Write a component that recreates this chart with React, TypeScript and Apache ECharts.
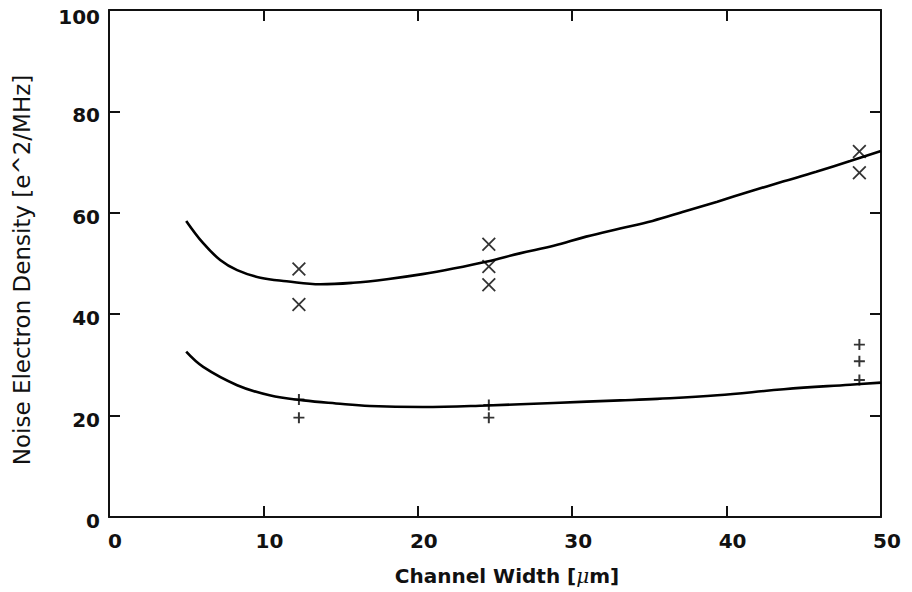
import React, { useEffect, useRef } from "react";
import * as echarts from "echarts";

const xTicks = [0, 10, 20, 30, 40, 50];
const yTicks = [0, 20, 40, 60, 80, 100];

const upperCurveX = [5.0, 6.1, 7.2, 8.3, 9.8, 11.5, 13.7, 15.8, 18.0, 20.3, 22.3, 24.5, 26.6, 28.8, 30.9, 33.1, 35.2, 37.2, 39.4, 41.5, 43.7, 45.8, 48.0, 50.0];
const upperCurveY = [58.4, 54.0, 50.7, 48.7, 47.2, 46.5, 45.9, 46.2, 46.9, 47.9, 49.0, 50.4, 52.0, 53.5, 55.3, 56.9, 58.4, 60.2, 62.2, 64.2, 66.2, 68.1, 70.2, 72.2];

const lowerCurveX = [5.0, 6.1, 8.3, 10.4, 12.6, 14.7, 16.9, 20.3, 24.5, 28.8, 33.1, 35.5, 39.4, 43.7, 48.0, 50.0];
const lowerCurveY = [32.6, 29.6, 26.0, 24.0, 23.0, 22.4, 21.9, 21.7, 22.0, 22.5, 23.0, 23.3, 24.0, 25.2, 26.1, 26.5];

const crossX = [12.3, 12.3, 24.6, 24.6, 24.6, 48.6, 48.6];
const crossY = [48.9, 41.9, 53.8, 49.4, 45.8, 72.1, 67.9];

const plusX = [12.3, 12.3, 24.6, 24.6, 48.6, 48.6, 48.6];
const plusY = [23.2, 19.6, 22.1, 19.6, 34.0, 30.7, 27.0];

const pairs = (xs: number[], ys: number[]) => xs.map((x, i) => [x, ys[i]]);

const CROSS_PATH = "path://M4.5,0H5.5V4.5H10V5.5H5.5V10H4.5V5.5H0V4.5H4.5Z";
const PLUS_PATH = "path://M4.1,0H5.9V4.1H10V5.9H5.9V10H4.1V5.9H0V4.1H4.1Z";

export default function App() {
  const ref = useRef<HTMLDivElement>(null);
  useEffect(() => {
    document.body.style.margin = "0";
    const chart = echarts.init(ref.current!, null, { renderer: "svg" });
    const tickLabel = {
      fontFamily: "DejaVu Sans",
      fontWeight: "bold" as const,
      fontSize: 20,
      color: "#111",
    };
    const lineStyle = { color: "#111", width: 2 };
    chart.setOption({
      animation: false,
      backgroundColor: "#fff",
      grid: { left: 109, right: 31, top: 10, bottom: 75 },
      xAxis: [
        {
          type: "value",
          min: 0,
          max: 50,
          interval: 10,
          position: "bottom",
          axisLine: { show: true, lineStyle },
          axisTick: { show: true, inside: true, length: 11, lineStyle },
          axisLabel: {
            ...tickLabel,
            margin: 14,
            padding: [0, 0, 0, 12],
            formatter: (v: number) => (xTicks.includes(v) ? String(v) : ""),
          },
          splitLine: { show: false },
        },
        {
          type: "value",
          min: 0,
          max: 50,
          interval: 10,
          position: "top",
          axisLine: { show: true, onZero: false, lineStyle },
          axisTick: { show: true, inside: true, length: 11, lineStyle },
          axisLabel: { show: false },
          splitLine: { show: false },
        },
      ],
      yAxis: [
        {
          type: "value",
          min: 0,
          max: 100,
          interval: 20,
          position: "left",
          axisLine: { show: true, onZero: false, lineStyle },
          axisTick: { show: true, inside: true, length: 11, lineStyle },
          axisLabel: {
            ...tickLabel,
            margin: 9,
            padding: [8, 0, 0, 0],
            formatter: (v: number) =>
              v === 100 ? "{top|100}" : yTicks.includes(v) ? String(v) : "",
            rich: {
              top: { ...tickLabel, padding: [6, 0, 0, 0] },
            },
          },
          splitLine: { show: false },
        },
        {
          type: "value",
          min: 0,
          max: 100,
          interval: 20,
          position: "right",
          axisLine: { show: true, onZero: false, lineStyle },
          axisTick: { show: true, inside: true, length: 11, lineStyle },
          axisLabel: { show: false },
          splitLine: { show: false },
        },
      ],
      series: [
        {
          name: "upper fit",
          type: "line",
          data: pairs(upperCurveX, upperCurveY),
          smooth: 0.4,
          showSymbol: false,
          lineStyle: { color: "#000", width: 2.6 },
        },
        {
          name: "lower fit",
          type: "line",
          data: pairs(lowerCurveX, lowerCurveY),
          smooth: 0.4,
          showSymbol: false,
          lineStyle: { color: "#000", width: 2.6 },
        },
        {
          name: "cross data",
          type: "scatter",
          data: pairs(crossX, crossY),
          symbol: CROSS_PATH,
          symbolSize: 18,
          symbolRotate: 45,
          itemStyle: { color: "#000" },
        },
        {
          name: "plus data",
          type: "scatter",
          data: pairs(plusX, plusY),
          symbol: PLUS_PATH,
          symbolSize: 11,
          itemStyle: { color: "#000" },
        },
      ],
      graphic: [
        {
          type: "text",
          x: 507,
          y: 576,
          style: {
            text: "Channel Width [{i|μ}m]",
            fontFamily: "DejaVu Sans",
            fontWeight: "bold",
            fontSize: 20,
            fill: "#111",
            align: "center",
            verticalAlign: "middle",
            rich: {
              i: {
                fontFamily: "DejaVu Serif",
                fontStyle: "italic",
                fontWeight: "normal",
                fontSize: 20,
                fill: "#111",
              },
            },
          },
        },
        {
          type: "text",
          x: 22,
          y: 270,
          rotation: Math.PI / 2,
          style: {
            text: "Noise Electron Density [e^2/MHz]",
            fontFamily: "DejaVu Sans",
            fontSize: 23,
            fill: "#111",
            align: "center",
            verticalAlign: "middle",
          },
        },
      ],
    });
    return () => chart.dispose();
  }, []);
  return <div ref={ref} style={{ position: "fixed", left: 0, top: 0, width: 912, height: 592 }} />;
}
